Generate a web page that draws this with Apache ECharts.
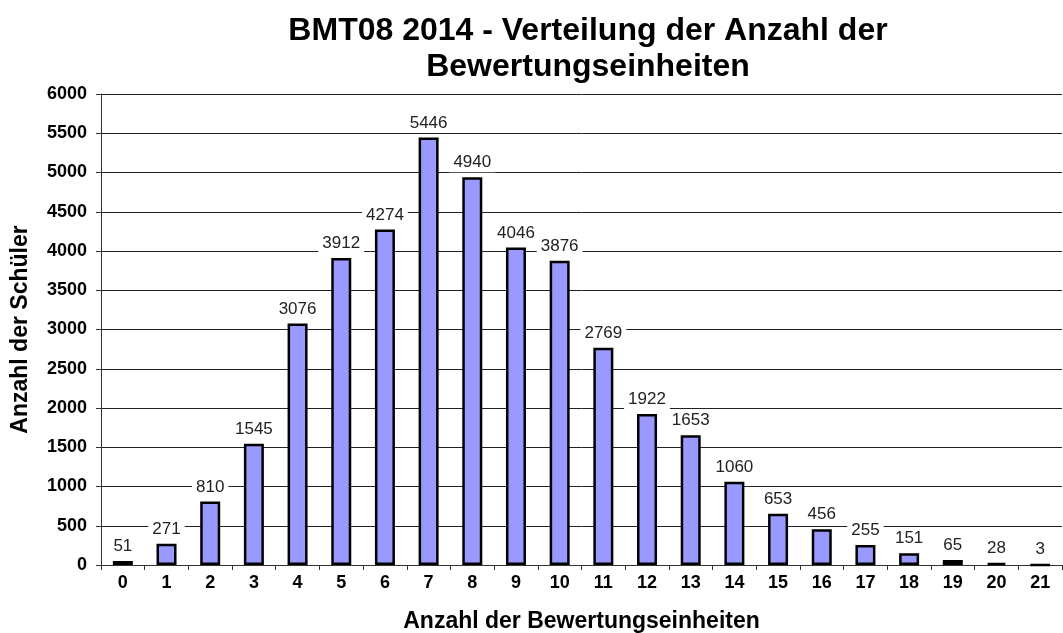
<!DOCTYPE html>
<html>
<head>
<meta charset="utf-8">
<script src="https://cdn.jsdelivr.net/npm/echarts@6/dist/echarts.min.js"></script>
<style>
  html, body { margin: 0; padding: 0; background: #fff; }
  #echart { width: 1063px; height: 633px; }
</style>
</head>
<body>
<div id="echart"></div>
<script>
// Daten
var categories = ['0','1','2','3','4','5','6','7','8','9','10','11','12','13','14','15','16','17','18','19','20','21'];
var schueler = [51, 271, 810, 1545, 3076, 3912, 4274, 5446, 4940, 4046, 3876, 2769, 1922, 1653, 1060, 653, 456, 255, 151, 65, 28, 3];

var chartDom = document.getElementById('echart');
var myChart = echarts.init(chartDom);
var font = 'Liberation Sans, Arial, sans-serif';

var option = {
  animation: false,
  textStyle: { fontFamily: font },
  title: {
    text: 'BMT08 2014 - Verteilung der Anzahl der\nBewertungseinheiten',
    left: 583,
    textAlign: 'center',
    top: 8,
    textStyle: { fontSize: 32, fontWeight: 'bold', color: '#000', lineHeight: 36, fontFamily: font }
  },
  grid: { left: 101, right: 1, top: 94, bottom: 68, outerBoundsMode: 'none', containLabel: false },
  xAxis: {
    type: 'category',
    data: categories,
    name: 'Anzahl der Bewertungseinheiten',
    nameLocation: 'middle',
    nameGap: 45,
    nameTextStyle: { fontSize: 23, fontWeight: 'bold', color: '#000' },
    axisLine: { lineStyle: { color: '#333', width: 1 } },
    axisTick: { show: true, length: 5, lineStyle: { color: '#333' } },
    axisLabel: { fontSize: 18, fontWeight: 'bold', color: '#000', margin: 9 }
  },
  yAxis: {
    type: 'value',
    min: 0,
    max: 6000,
    interval: 500,
    name: 'Anzahl der Schüler',
    nameLocation: 'middle',
    nameGap: 69,
    nameTextStyle: { fontSize: 23, fontWeight: 'bold', color: '#000' },
    axisLine: { show: true, lineStyle: { color: '#333', width: 1 } },
    axisTick: { show: true, length: 5, lineStyle: { color: '#333' } },
    axisLabel: { fontSize: 18, fontWeight: 'bold', color: '#000', margin: 14, formatter: function (v) { return String(v); } },
    splitLine: { lineStyle: { color: '#222', width: 1 } }
  },
  series: [
    {
      name: 'Schüler',
      type: 'bar',
      data: schueler,
      barWidth: 20,
      itemStyle: { color: '#9999ff', borderColor: '#000', borderWidth: 2.5 },
      label: {
        show: true,
        position: 'top',
        distance: 5,
        fontSize: 17,
        color: '#222',
        backgroundColor: '#fff',
        padding: [1, 4]
      }
    }
  ]
};

option && myChart.setOption(option);
</script>
</body>
</html>
